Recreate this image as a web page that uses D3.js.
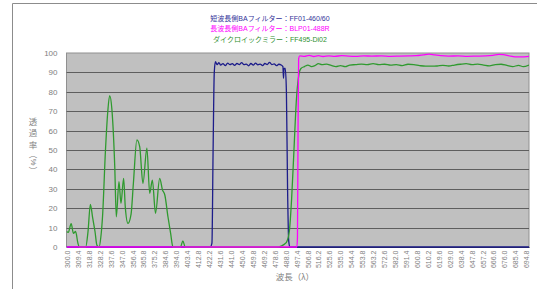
<!DOCTYPE html>
<html><head><meta charset="utf-8">
<script src="https://cdn.jsdelivr.net/npm/d3@7"></script>
<style>
html,body{margin:0;padding:0;background:#fff;}
svg{display:block;}
text{font-family:"Liberation Sans","Noto Sans CJK JP",sans-serif;}
</style></head><body>
<svg id="c" width="545" height="289"></svg>
<script>
// ---- data ----
const titleLines = ["短波長側BAフィルター：FF01-460/60", "長波長側BAフィルター：BLP01-488R", "ダイクロイックミラー：FF495-Di02"];
const yTitleChars = ["透","過","率","（","%","）"];
const yTicks = [0,10,20,30,40,50,60,70,80,90,100];
const xTickLabels = ["300.0","309.4","318.8","328.2","337.6","347.0","356.4","365.8","375.2","384.6","394.0","403.4","412.8","422.2","431.6","441.0","450.4","459.8","469.2","478.6","488.0","497.4","506.8","516.2","525.6","535.0","544.4","553.8","563.2","572.6","582.0","591.4","600.8","610.2","619.6","629.0","638.4","647.8","657.2","666.6","676.0","685.4","694.8"];

const blueNm = [299.5,423,424.5,425.5,426.5,427.5,429,430.5,432,434,436,438,440,442,444,446,448,450,452,454,456,458,460,462,464,466,468,470,472,474,476,478,480,482,484,485.5,486,486.5,487.5,488.5,489.5,490.5,491.5,697];
const blueT  = [0,0,2,50,90,95.5,94,95,93.8,94.5,93.5,94.8,94,94.5,93.6,94.6,94,95,94,94.3,93.4,94.6,93.8,94.8,93.9,94.3,93.5,94.6,94,95.2,94,94.4,93.5,94.2,93.8,93,87,92,92,80,30,3,0,0];

const pinkNm = [299.5,497.5,498,498.5,499,500,504,508,512,516,520,525,530,536,542,548,555,562,570,578,586,594,600,606,611,616,621,628,636,644,652,660,666,671,675,680,685,690,697];
const pinkT  = [0,0,5,60,97,98.5,98.3,98.8,98.2,98.6,98.2,98.5,98.3,98.6,98.4,98.3,98.5,98.4,98.5,98.3,98.4,98.5,98.6,99,99.4,99,98.6,98.4,98.5,98.3,98.4,98.5,98.8,99.3,99.2,98.5,98,98,98.3];

const greenNm = [299.5,301,303.5,305.5,307.3,309.3,310.5,316,318,320,322,324,325.6,327.5,329,330.5,333,335,336.6,338.5,341,342.3,344.6,346.3,348.6,350,352.3,355,357,360,362.4,365.2,368.6,371,373.3,376,379.6,382,384,386.7,389,391,397.5,399.5,401.5,480,484,487,489,491,493,495,497,499,501,504,507,510,513,516,519,523,527,531,535,539,543,548,553,558,563,568,573,578,583,588,593,598,603,608,613,618,623,628,633,638,643,648,653,658,663,668,673,678,683,688,692,697];
const greenT  = [8,7.5,12,7,8,2,0,0,8,22,15,8,1,0,5,16,50,70,78,71,41,15.6,33.7,22.5,35.4,20.8,12.2,17,33,55.2,51.7,32.8,50.9,27.7,34.5,17.4,35.4,29.4,26.8,15.6,7,0,0,3.2,0,0,0.5,1.5,3,8,25,50,75,88,92,93,93.8,93,93.5,94.5,94,94.3,93.6,93,93.5,93,93.8,94,94.3,94,94.5,94,94.2,93.7,94,93.5,94.2,94,93.5,93.2,93.2,93.3,93.6,93.3,93.8,94.2,94.5,94,94.3,93.8,93.4,94,94.2,93.6,93,93.6,93,93.8];

// ---- drawing ----
const svg = d3.select("#c");
const L = 66.5, R = 529, T = 53, B = 247;
const x = d3.scaleLinear().domain([299.5, 697]).range([L, R]);
const y = d3.scaleLinear().domain([0, 100]).range([B, T]);

// chart border
svg.append("path").attr("d","M12.5,289 V3.5 H537").attr("fill","none").attr("stroke","#8c8c8c").attr("stroke-width",1);

// title
const tcol = ["#333399","#ff00ff","#2f8f2f"];
titleLines.forEach((t,i)=>{
  svg.append("text").attr("x",270).attr("y",20.5+i*10.5).attr("text-anchor","middle")
    .attr("font-size",7).attr("fill",tcol[i]).attr("font-family","'Noto Sans CJK JP',sans-serif").text(t);
});

// plot area
svg.append("rect").attr("x",L).attr("y",T).attr("width",R-L).attr("height",B-T).attr("fill","#c0c0c0").attr("stroke","#909090").attr("stroke-width",1);

// gridlines
svg.append("g").selectAll("line").data(yTicks.filter(v=>v>0&&v<100)).join("line")
  .attr("x1",L).attr("x2",R).attr("y1",d=>Math.round(y(d))+0.5).attr("y2",d=>Math.round(y(d))+0.5)
  .attr("stroke","#5e5e5e").attr("stroke-width",1);

// y axis
const yAxis = d3.axisLeft(y).tickValues(yTicks).tickSize(0).tickPadding(9);
const gy = svg.append("g").attr("transform",`translate(${L},0)`).call(yAxis);
gy.select(".domain").remove();
gy.selectAll("text").attr("font-size",8).attr("fill","#808080").attr("font-family","'Liberation Sans',sans-serif");

// x axis
const xVals = xTickLabels.map(Number);
const xAxis = d3.axisBottom(x).tickValues(xVals).tickFormat((d,i)=>xTickLabels[i]).tickSize(0).tickPadding(0);
const gx = svg.append("g").attr("transform",`translate(0,${B})`).call(xAxis);
gx.select(".domain").attr("stroke","#333").attr("stroke-width",1.2);
gx.selectAll("text").attr("font-size",7).attr("fill","#808080").attr("font-family","'Liberation Sans',sans-serif")
  .attr("transform","rotate(-90)").attr("text-anchor","end").attr("x",-3.5).attr("y",0).attr("dy","0.33em");

// axis titles
svg.append("text").attr("x",295).attr("y",280).attr("text-anchor","middle").attr("font-size",8.5)
  .attr("fill","#808080").attr("font-family","'Noto Sans CJK JP',sans-serif").text("波長（λ）");
const yCenters = [121.5,133,144.5,154.5,162,170.5];
const gt = svg.append("g").attr("fill","#808080").attr("font-family","'Noto Sans CJK JP',sans-serif").attr("font-size",8.5);
yTitleChars.forEach((ch,i)=>{
  const rot = i>=3;
  gt.append("text").attr("text-anchor","middle").attr("dominant-baseline","central")
    .attr("transform",`translate(33,${yCenters[i]})${rot?" rotate(90)":""}`)
    .attr("font-family", ch==="%" ? "'Liberation Sans',sans-serif" : null)
    .attr("font-size", ch==="%" ? 7.5 : null)
    .text(ch);
});

// series
svg.append("clipPath").attr("id","pc").append("rect").attr("x",L).attr("y",T-3).attr("width",R-L).attr("height",B-T+6);
const line = d3.line().x(d=>x(d[0])).y(d=>y(d[1])).curve(d3.curveMonotoneX);
const series = [
  {nm: blueNm, t: blueT, c: "#1c1c8a"},
  {nm: greenNm, t: greenT, c: "#2f9a2f"},
  {nm: pinkNm, t: pinkT, c: "#ff00ff"}
];
series.forEach(s=>{
  svg.append("path").datum(s.nm.map((v,i)=>[v,s.t[i]])).attr("d",line)
    .attr("fill","none").attr("stroke",s.c).attr("stroke-width",1.3).attr("clip-path","url(#pc)");
});
</script>
</body></html>
